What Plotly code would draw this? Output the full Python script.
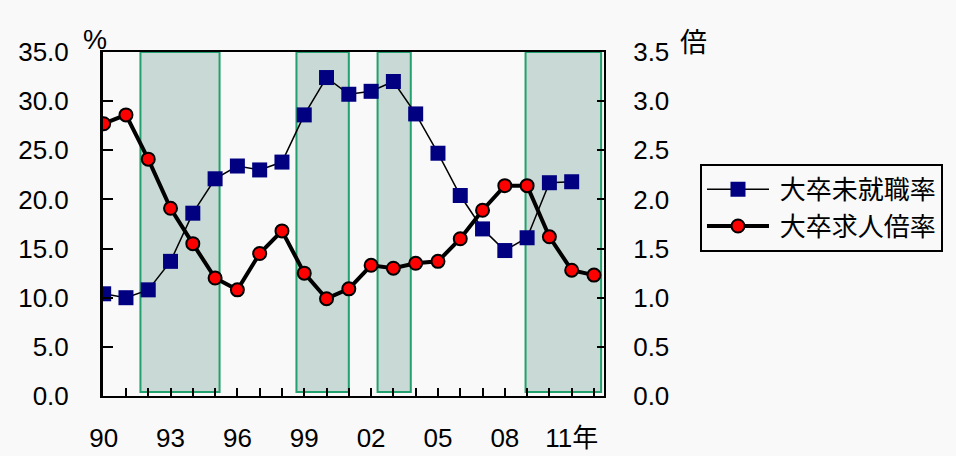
import plotly.graph_objects as go

# Fiscal years 1990-2012
years = list(range(1990, 2013))

# 大卒未就職率 (%) — left axis
unemployed_rate = [10.4, 10.0, 10.8, 13.7, 18.6, 22.1, 23.4, 23.0, 23.8, 28.6,
                   32.4, 30.7, 31.0, 32.0, 28.7, 24.7, 20.4, 17.0, 14.8, 16.1,
                   21.7, 21.8, None]

# 大卒求人倍率 (倍) — right axis
job_ratio = [2.77, 2.86, 2.41, 1.91, 1.55, 1.20, 1.08, 1.45, 1.68, 1.25,
             0.99, 1.09, 1.33, 1.30, 1.35, 1.37, 1.60, 1.89, 2.14, 2.14,
             1.62, 1.28, 1.23]

# Shaded recession periods (start, end) in year units
shaded_periods = [(1991.65, 1995.2), (1998.65, 2001.0),
                  (2002.29, 2003.78), (2008.93, 2012.32)]

tick_years = [1990, 1993, 1996, 1999, 2002, 2005, 2008, 2011]
tick_labels = ["90", "93", "96", "99", "02", "05", "08", "11年"]

series_names = ["大卒未就職率", "大卒求人倍率"]

num_font = "Liberation Sans, Arial, Noto Sans CJK JP, sans-serif"
cjk_font = "Noto Sans CJK JP, sans-serif"

fig = go.Figure()

# a non-breaking space widens the gap between legend symbol and text
fig.add_trace(go.Scatter(
    x=years, y=unemployed_rate, name="\u00a0" + series_names[0],
    mode="lines+markers",
    line=dict(color="black", width=1.5),
    marker=dict(symbol="square", size=15, color="#000080"),
    yaxis="y",
))

fig.add_trace(go.Scatter(
    x=years, y=job_ratio, name="\u00a0" + series_names[1],
    mode="lines+markers",
    line=dict(color="black", width=4),
    marker=dict(symbol="circle", size=13, color="#ff0000",
                line=dict(color="black", width=2)),
    yaxis="y2",
))

shapes = []
for start, end in shaded_periods:
    shapes.append(dict(
        type="rect", xref="x", yref="y", x0=start, x1=end, y0=0.4, y1=35,
        fillcolor="#c9d9d5", line=dict(color="#22a06e", width=2),
        layer="below",
    ))

fig.update_layout(
    width=956, height=456,
    margin=dict(l=103, r=352, t=52, b=60),
    paper_bgcolor="#f9f9f9",
    plot_bgcolor="#f9f9f9",
    showlegend=True,
    shapes=shapes,
    xaxis=dict(
        range=[1989.97, 2012.45], automargin=False,
        tickmode="array", tickvals=tick_years, ticktext=tick_labels,
        ticks="inside", ticklen=8, tickwidth=1.5, tickcolor="black",
        minor=dict(tick0=1990, dtick=1, ticks="inside", ticklen=8,
                   tickwidth=1.5, tickcolor="black", showgrid=False),
        ticklabelstandoff=18,
        showline=True, linecolor="black", linewidth=2, mirror=True,
        showgrid=False, zeroline=False,
        tickfont=dict(family=num_font, size=26, color="black"),
    ),
    yaxis=dict(
        range=[0, 35], dtick=5, tickformat=".1f", automargin=False,
        ticks="inside", ticklen=10, tickwidth=1.5, tickcolor="black",
        ticklabelstandoff=26,
        showline=True, linecolor="black", linewidth=3,
        showgrid=False, zeroline=False,
        tickfont=dict(family=num_font, size=26, color="black"),
    ),
    yaxis2=dict(
        range=[0, 3.5], dtick=0.5, tickformat=".1f", automargin=False,
        overlaying="y", side="right",
        ticks="inside", ticklen=7, tickwidth=1.5, tickcolor="black",
        ticklabelstandoff=22,
        showline=True, linecolor="black", linewidth=2,
        showgrid=False, zeroline=False,
        tickfont=dict(family=num_font, size=26, color="black"),
    ),
    legend=dict(
        x=1.1916, y=0.675, xanchor="left", yanchor="top",
        bgcolor="#f9f9f9", bordercolor="black", borderwidth=2,
        font=dict(family=cjk_font, size=26, color="black"),
        itemwidth=62, tracegroupgap=0,
    ),
    annotations=[
        dict(text="%", xref="paper", yref="paper", x=-0.016, y=1.035,
             xanchor="center", yanchor="middle", showarrow=False,
             font=dict(family=num_font, size=27, color="black")),
        dict(text="倍", xref="paper", yref="paper", x=1.178, y=1.032,
             xanchor="center", yanchor="middle", showarrow=False,
             font=dict(family=cjk_font, size=27, color="black")),
    ],
)

fig.write_html("out.html")
